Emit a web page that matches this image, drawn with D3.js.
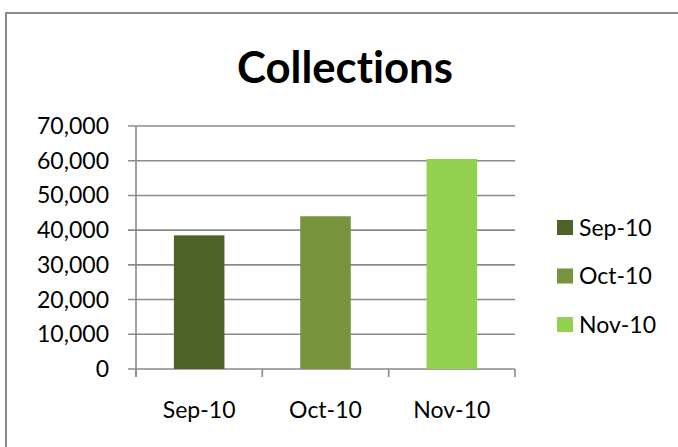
<!DOCTYPE html>
<html>
<head>
<meta charset="utf-8">
<script src="https://cdn.jsdelivr.net/npm/d3@7"></script>
<style>
  html, body { margin: 0; padding: 0; background: #fff; }
  svg { display: block; }
  text { font-family: Lato, "Open Sans", sans-serif; fill: #000; font-variant-ligatures: none; }
</style>
</head>
<body>
<svg id="chart" width="678" height="447"></svg>
<script>
const title = "Collections";
const categories = ["Sep-10", "Oct-10", "Nov-10"];
const values = [38500, 44000, 60500];
const colors = ["#4F6228", "#77933C", "#92D050"];
const yTicks = [0, 10000, 20000, 30000, 40000, 50000, 60000, 70000];

const svg = d3.select("#chart");
const W = 678, H = 447;
const plot = { left: 136, right: 515, top: 126, bottom: 369 };
const gridColor = "#8a8a8a";

// outer chart border (extends past the right and bottom edges)
svg.append("rect")
  .attr("x", 6).attr("y", 13)
  .attr("width", W + 20).attr("height", H + 20)
  .attr("fill", "#fff").attr("stroke", "#8a8a8a").attr("stroke-width", 2);

// fit font size to a target width
function fit(sel, target) {
  const fs = parseFloat(sel.attr("font-size"));
  const w = sel.node().getComputedTextLength();
  sel.attr("font-size", fs * target / w);
  return fs * target / w;
}

const x = d3.scaleBand().domain(categories).range([plot.left, plot.right]).padding(0);
const y = d3.scaleLinear().domain([0, 70000]).range([plot.bottom, plot.top]);

// gridlines
svg.append("g").selectAll("line").data(yTicks).join("line")
  .attr("x1", plot.left - 8).attr("x2", plot.right)
  .attr("y1", d => y(d)).attr("y2", d => y(d))
  .attr("stroke", gridColor).attr("stroke-width", 1.6);

// bars
svg.append("g").selectAll("rect").data(categories).join("rect")
  .attr("x", d => x(d) + x.bandwidth() * 0.3)
  .attr("width", x.bandwidth() * 0.4)
  .attr("y", (d, i) => y(values[i]))
  .attr("height", (d, i) => y(0) - y(values[i]))
  .attr("fill", (d, i) => colors[i]);

// y axis line
svg.append("line")
  .attr("x1", plot.left).attr("x2", plot.left)
  .attr("y1", plot.top).attr("y2", plot.bottom + 8)
  .attr("stroke", gridColor).attr("stroke-width", 1.6);

// x axis ticks at category boundaries
const bounds = categories.map(c => x(c)).concat([plot.right]);
svg.append("g").selectAll("line").data(bounds).join("line")
  .attr("x1", d => d).attr("x2", d => d)
  .attr("y1", plot.bottom).attr("y2", plot.bottom + 8)
  .attr("stroke", gridColor).attr("stroke-width", 1.6);

// y tick labels
const fmt = d3.format(",");
const yl = svg.append("g").selectAll("text").data(yTicks).join("text")
  .attr("x", 109).attr("y", d => y(d))
  .attr("dy", "0.35em").attr("text-anchor", "end")
  .attr("font-size", 24).text(d => fmt(d));
const probe = yl.filter(d => d === 70000);
const fsY = fit(probe, 72);
yl.attr("font-size", fsY);

// x category labels
svg.append("g").selectAll("text").data(categories).join("text")
  .attr("x", d => x(d) + x.bandwidth() / 2).attr("y", 418)
  .attr("text-anchor", "middle").attr("font-size", fsY).text(d => d);

// title
const t = svg.append("text")
  .attr("x", 345).attr("y", 83).attr("text-anchor", "middle")
  .attr("font-weight", "bold").attr("font-size", 44).text(title);
fit(t, 216);

// legend
const lg = svg.append("g").selectAll("g").data(categories).join("g")
  .attr("transform", (d, i) => `translate(557, ${227.5 + i * 48.5})`);
lg.append("rect").attr("x", 0).attr("y", -7.5).attr("width", 16).attr("height", 15)
  .attr("fill", (d, i) => colors[i]);
lg.append("text").attr("x", 22).attr("y", 0).attr("dy", "0.35em")
  .attr("font-size", fsY).text(d => d);
</script>
</body>
</html>
